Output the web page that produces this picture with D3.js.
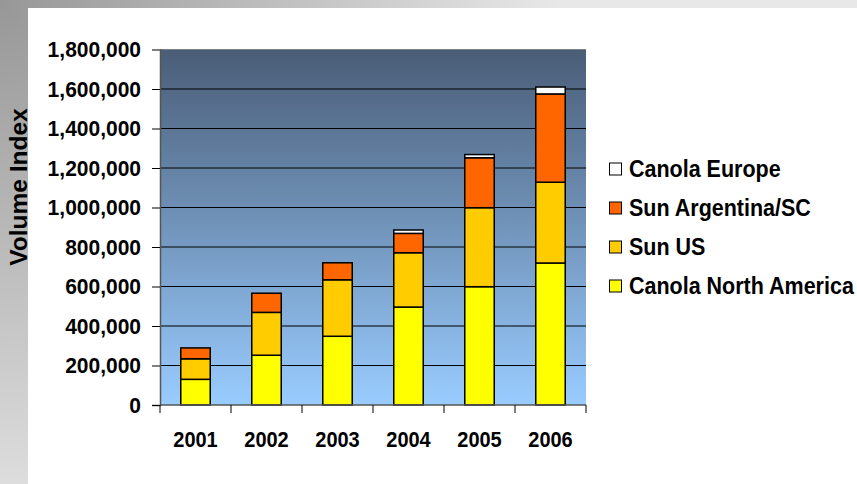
<!DOCTYPE html>
<html>
<head>
<meta charset="utf-8">
<script src="https://cdn.jsdelivr.net/npm/d3@7"></script>
<style>
  html, body { margin: 0; padding: 0; background: #fff; }
  svg { display: block; font-family: "Liberation Sans", Arial, sans-serif; font-weight: bold; }
</style>
</head>
<body>
<svg id="chart" width="857" height="484"></svg>
<script>
// Yearly volume index by origin (stacked)
const years = ["2001", "2002", "2003", "2004", "2005", "2006"];
const canolaNorthAmerica = [130000, 252000, 348000, 496000, 599000, 719000];
const sunUS = [104000, 217000, 286000, 275000, 400000, 409000];
const sunArgentinaSC = [55000, 97000, 86000, 98000, 253000, 447000];
const canolaEurope = [0, 0, 0, 17000, 16000, 35000];
const yTicks = [0, 200000, 400000, 600000, 800000, 1000000, 1200000, 1400000, 1600000, 1800000];

const seriesNames = ["Canola North America", "Sun US", "Sun Argentina/SC", "Canola Europe"];
const seriesColors = ["#ffff00", "#ffcc00", "#ff6600", "#ffffff"];
const seriesValues = [canolaNorthAmerica, sunUS, sunArgentinaSC, canolaEurope];

const rows = years.map((y, i) => {
  const r = { year: y };
  seriesNames.forEach((s, k) => { r[s] = seriesValues[k][i]; });
  return r;
});

const svg = d3.select("#chart");
const W = 857, H = 484;
const plot = { left: 160, right: 586, top: 49.5, bottom: 405 };
const TALL = "scale(1,1.07)"; // slightly tall lettering

const defs = svg.append("defs");
const bg = defs.append("radialGradient")
  .attr("id", "frameGrad").attr("gradientUnits", "userSpaceOnUse")
  .attr("cx", 0).attr("cy", 0).attr("r", 560);
bg.append("stop").attr("offset", "0%").attr("stop-color", "#979797");
bg.append("stop").attr("offset", "100%").attr("stop-color", "#e8e8e8");

const pg = defs.append("linearGradient")
  .attr("id", "plotGrad").attr("x1", 0).attr("y1", 0).attr("x2", 0).attr("y2", 1);
pg.append("stop").attr("offset", "0%").attr("stop-color", "#4a5d77");
pg.append("stop").attr("offset", "100%").attr("stop-color", "#99ccff");

// Frame and white panel
svg.append("rect").attr("width", W).attr("height", H).attr("fill", "url(#frameGrad)");
svg.append("rect").attr("x", 28).attr("y", 8).attr("width", W - 28).attr("height", H - 8).attr("fill", "#ffffff");

const x = d3.scaleBand().domain(years)
  .range([plot.left, plot.right]).paddingInner(0.585).paddingOuter(0.2925);
const y = d3.scaleLinear().domain([0, 1800000]).range([plot.bottom, plot.top]);

// Plot area
svg.append("rect")
  .attr("x", plot.left).attr("y", plot.top)
  .attr("width", plot.right - plot.left).attr("height", plot.bottom - plot.top)
  .attr("fill", "url(#plotGrad)");

// Gridlines
svg.append("g").selectAll("line")
  .data(yTicks.filter(v => v > 0))
  .join("line")
  .attr("x1", plot.left).attr("x2", plot.right)
  .attr("y1", d => y(d)).attr("y2", d => y(d))
  .attr("stroke", d => d === 1800000 ? "#7f7f7f" : "#000")
  .attr("stroke-width", 1);

// Y axis
const yAxis = svg.append("g")
  .attr("transform", `translate(${plot.left},0)`)
  .call(d3.axisLeft(y).tickValues(yTicks).tickFormat(d3.format(",")).tickSize(8).tickPadding(11));
yAxis.select(".domain").attr("stroke", "#555").attr("stroke-width", 1.5);
yAxis.selectAll(".tick line").attr("stroke", d => d === 1800000 ? "#7f7f7f" : "#000");
yAxis.selectAll(".tick text").attr("font-size", 21).attr("font-weight", "bold")
  .attr("fill", "#000").attr("font-family", "Liberation Sans, Arial, sans-serif")
  .attr("transform", TALL);

// Stacked bars
const stack = d3.stack().keys(seriesNames);
const layers = stack(rows);
svg.append("g").selectAll("g")
  .data(layers)
  .join("g")
  .attr("fill", (d, i) => seriesColors[i])
  .selectAll("rect")
  .data(d => d.filter(s => s[1] - s[0] > 0))
  .join("rect")
  .attr("x", d => x(d.data.year))
  .attr("width", x.bandwidth())
  .attr("y", d => y(d[1]))
  .attr("height", d => y(d[0]) - y(d[1]))
  .attr("stroke", "#000")
  .attr("stroke-width", 1.5);

// X axis: baseline, category boundary ticks and year labels
const xAxis = svg.append("g").attr("transform", `translate(0,${plot.bottom})`);
xAxis.append("line").attr("x1", plot.left).attr("x2", plot.right)
  .attr("stroke", "#555").attr("stroke-width", 1.5);
const gap = (x.step() - x.bandwidth()) / 2;
const bounds = years.map(d => x(d) - gap).concat([x(years[years.length - 1]) + x.bandwidth() + gap]);
xAxis.selectAll("line.tick").data(bounds).join("line").attr("class", "tick")
  .attr("x1", d => d).attr("x2", d => d).attr("y1", 0).attr("y2", 8)
  .attr("stroke", "#000");
xAxis.selectAll("g.year").data(years).join("g").attr("class", "year")
  .attr("transform", d => `translate(${x(d) + x.bandwidth() / 2},42)`)
  .append("text")
  .attr("transform", "scale(1,1.1)")
  .attr("text-anchor", "middle").attr("font-size", 20).attr("fill", "#000")
  .text(d => d);

// Axis title
svg.append("text")
  .attr("transform", "translate(27,187) rotate(-90)")
  .attr("text-anchor", "middle").attr("font-size", 24.5).attr("fill", "#000")
  .text("Volume Index");

// Legend (reverse stacking order)
const legendOrder = [3, 2, 1, 0];
const legend = svg.append("g").selectAll("g")
  .data(legendOrder)
  .join("g")
  .attr("transform", (k, i) => `translate(609,${169 + i * 39})`);
legend.append("rect").attr("x", 0.5).attr("y", -6).attr("width", 12).attr("height", 12)
  .attr("fill", k => seriesColors[k]).attr("stroke", "#000").attr("stroke-width", 1);
legend.append("g").attr("transform", "translate(20,8)")
  .append("text").attr("transform", TALL)
  .attr("font-size", 21.5).attr("fill", "#000")
  .text(k => seriesNames[k]);
</script>
</body>
</html>
